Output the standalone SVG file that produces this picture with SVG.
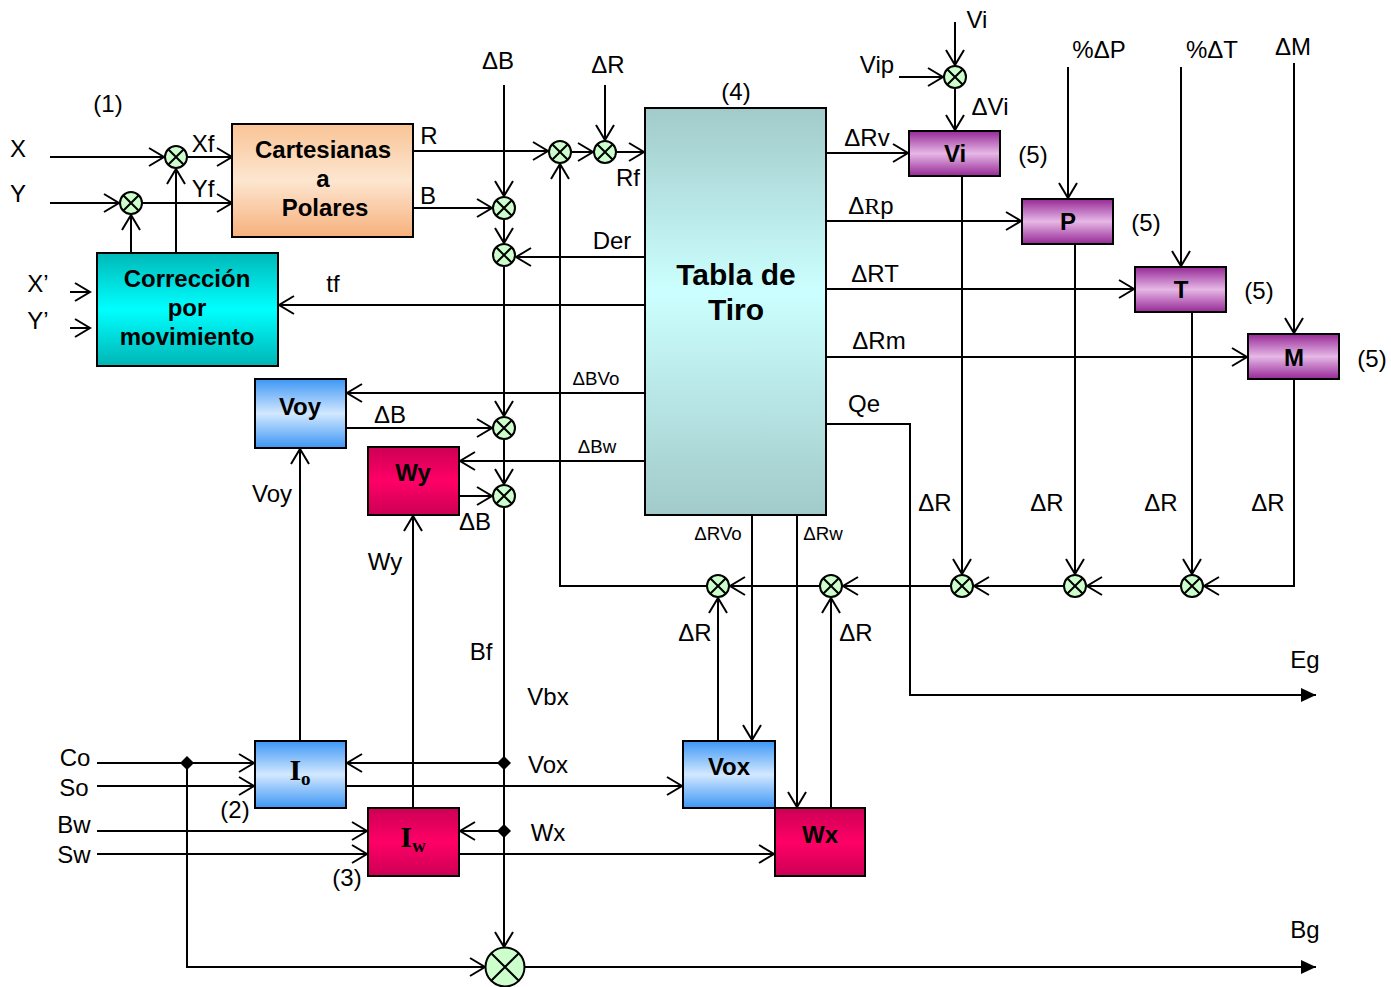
<svg xmlns="http://www.w3.org/2000/svg" xmlns:xlink="http://www.w3.org/1999/xlink" width="1391" height="987" viewBox="0 0 1391 987">
<style>
.l{fill:none;stroke:#000;stroke-width:2}
.a{marker-end:url(#ar)}
.f{marker-end:url(#fa)}
.t{font-family:"Liberation Sans",Arial,sans-serif;font-size:24px;fill:#000;text-anchor:middle}
.s{font-size:18.7px}
.b{font-weight:bold}
.bx{stroke:#000;stroke-width:2}
.sv{font-family:"Liberation Serif","Times New Roman",serif;font-weight:bold;font-size:30px;text-anchor:middle}
</style>
<defs>
<marker id="ar" markerUnits="userSpaceOnUse" markerWidth="18" markerHeight="22" viewBox="-1 -1 18 22" refX="15" refY="9" orient="auto"><path d="M0,0 L15,9 L0,18" fill="none" stroke="#000" stroke-width="2"/></marker>
<marker id="fa" markerUnits="userSpaceOnUse" markerWidth="16" markerHeight="16" viewBox="0 0 16 16" refX="15" refY="8" orient="auto"><path d="M0,1 L15,8 L0,15 z" fill="#000"/></marker>
<linearGradient id="gPeach" x1="0" y1="0" x2="0" y2="1"><stop offset="0" stop-color="#f9c496"/><stop offset="0.5" stop-color="#fde6d0"/><stop offset="1" stop-color="#f6b07c"/></linearGradient>
<linearGradient id="gCyan" x1="0" y1="0" x2="0" y2="1"><stop offset="0" stop-color="#00b8b8"/><stop offset="0.5" stop-color="#00ffff"/><stop offset="1" stop-color="#00b4b4"/></linearGradient>
<linearGradient id="gTabla" x1="0" y1="0" x2="0" y2="1"><stop offset="0" stop-color="#a2caca"/><stop offset="0.45" stop-color="#ccffff"/><stop offset="1" stop-color="#a2caca"/></linearGradient>
<linearGradient id="gBlue" x1="0" y1="0" x2="0" y2="1"><stop offset="0" stop-color="#3d96f5"/><stop offset="0.5" stop-color="#d2e8ff"/><stop offset="1" stop-color="#3d96f5"/></linearGradient>
<linearGradient id="gRed" x1="0" y1="0" x2="0" y2="1"><stop offset="0" stop-color="#cc0055"/><stop offset="0.5" stop-color="#ff0066"/><stop offset="1" stop-color="#cc0055"/></linearGradient>
<linearGradient id="gPurp" x1="0" y1="0" x2="0" y2="1"><stop offset="0" stop-color="#962896"/><stop offset="0.5" stop-color="#e6b8e6"/><stop offset="1" stop-color="#962896"/></linearGradient>
<g id="sum"><circle r="11" fill="#ccffcc" stroke="#000" stroke-width="2"/><path d="M-7.8,-7.8 L7.8,7.8 M-7.8,7.8 L7.8,-7.8" stroke="#000" stroke-width="2"/></g>
<g id="bigsum"><circle r="19.5" fill="#ccffcc" stroke="#000" stroke-width="2"/><path d="M-13.8,-13.8 L13.8,13.8 M-13.8,13.8 L13.8,-13.8" stroke="#000" stroke-width="2"/></g>
<path id="dia" d="M0,-7 L7,0 L0,7 L-7,0 z" fill="#000"/>
</defs>
<rect width="1391" height="987" fill="#fff"/>

<g id="connectors" class="l">
<path class="a" d="M50,157 H164"/>
<path class="a" d="M50,203 H119"/>
<path class="a" d="M187,157 H232"/>
<path class="a" d="M142,203 H232"/>
<path class="a" d="M131,253 V215"/>
<path class="a" d="M176,253 V169"/>
<path class="a" d="M70,292 H90"/>
<path class="a" d="M70,328 H90"/>
<path class="a" d="M413,151 H548"/>
<path class="a" d="M413,208 H492"/>
<path class="a" d="M504,85 V196"/>
<path class="a" d="M504,220 V243"/>
<path class="a" d="M645,257 H516"/>
<path class="a" d="M504,267 V416"/>
<path class="a" d="M504,440 V484"/>
<path class="a" d="M504,508 V947"/>
<path class="a" d="M645,305 H279"/>
<path class="a" d="M605,85 V140"/>
<path class="a" d="M571,152 H593"/>
<path class="a" d="M617,152 H644"/>
<path class="a" d="M707,586 H560 V164"/>
<path class="a" d="M645,393 H347"/>
<path class="a" d="M346,428 H492"/>
<path class="a" d="M645,461 H460"/>
<path class="a" d="M459,496 H492"/>
<path class="a" d="M300,741 V449"/>
<path class="a" d="M413,808 V516"/>
<path class="a" d="M504,763 H347"/>
<path class="a" d="M504,831 H460"/>
<path class="a" d="M97,763 H254"/>
<path class="a" d="M97,786 H254"/>
<path class="a" d="M97,831 H367"/>
<path class="a" d="M97,854 H367"/>
<path class="a" d="M187,763 V967 H485"/>
<path class="a" d="M346,786 H682"/>
<path class="a" d="M459,854 H774"/>
<path class="f" d="M525,967 H1316"/>
<path class="a" d="M752,515 V740"/>
<path class="a" d="M797,515 V807"/>
<path class="a" d="M718,741 V598"/>
<path class="a" d="M831,808 V598"/>
<path class="a" d="M820,586 H730"/>
<path class="a" d="M951,586 H843"/>
<path class="a" d="M1063,586 H974"/>
<path class="a" d="M1181,586 H1087"/>
<path class="a" d="M1294,379 V586 H1204"/>
<path class="a" d="M962,176 V574"/>
<path class="a" d="M1075,244 V574"/>
<path class="a" d="M1192,312 V574"/>
<path class="a" d="M826,153 H908"/>
<path class="a" d="M826,221 H1021"/>
<path class="a" d="M826,289 H1134"/>
<path class="a" d="M826,357 H1247"/>
<path class="f" d="M826,424 H910 V695 H1316"/>
<path class="a" d="M955,22 V65"/>
<path class="a" d="M899,77 H943"/>
<path class="a" d="M955,89 V130"/>
<path class="a" d="M1068,67 V198"/>
<path class="a" d="M1181,67 V266"/>
<path class="a" d="M1294,63 V333"/>
</g>

<g id="junctions">
<use id="jX" href="#sum" x="176" y="157"/>
<use id="jY" href="#sum" x="131" y="203"/>
<use id="jR1" href="#sum" x="560" y="152"/>
<use id="jR2" href="#sum" x="605" y="152"/>
<use id="jB1" href="#sum" x="504" y="208"/>
<use id="jB2" href="#sum" x="504" y="255"/>
<use id="jB3" href="#sum" x="504" y="428"/>
<use id="jB4" href="#sum" x="504" y="496"/>
<use id="jVi" href="#sum" x="955" y="77"/>
<use id="jR3" href="#sum" x="718" y="586"/>
<use id="jR4" href="#sum" x="831" y="586"/>
<use id="jR5" href="#sum" x="962" y="586"/>
<use id="jR6" href="#sum" x="1075" y="586"/>
<use id="jR7" href="#sum" x="1192" y="586"/>
<use id="jBig" href="#bigsum" x="505" y="967"/>
<use id="d1" href="#dia" x="187" y="763"/>
<use id="d2" href="#dia" x="504" y="763"/>
<use id="d3" href="#dia" x="504" y="831"/>
</g>

<g id="cartesianas"><rect class="bx" x="232" y="124" width="181" height="113" fill="url(#gPeach)"/>
<text class="t b" x="323" y="158">Cartesianas</text><text class="t b" x="323" y="187">a</text><text class="t b" x="325" y="216">Polares</text></g>
<g id="correccion"><rect class="bx" x="97" y="253" width="181" height="113" fill="url(#gCyan)"/>
<text class="t b" x="187" y="287">Corrección</text><text class="t b" x="187" y="316">por</text><text class="t b" x="187" y="345">movimiento</text></g>
<g id="tabla"><rect class="bx" x="645" y="108" width="181" height="407" fill="url(#gTabla)"/>
<text class="t b" x="736" y="285" style="font-size:30px">Tabla de</text><text class="t b" x="736" y="320" style="font-size:30px">Tiro</text></g>
<g id="voy"><rect class="bx" x="255" y="379" width="91" height="69" fill="url(#gBlue)"/><text class="t b" x="300" y="415">Voy</text></g>
<g id="wy"><rect class="bx" x="368" y="447" width="91" height="68" fill="url(#gRed)"/><text class="t b" x="413" y="481">Wy</text></g>
<g id="io"><rect class="bx" x="255" y="741" width="91" height="67" fill="url(#gBlue)"/><text class="sv" x="300" y="780">I<tspan font-size="19" dy="5">o</tspan></text></g>
<g id="iw"><rect class="bx" x="368" y="808" width="91" height="68" fill="url(#gRed)"/><text class="sv" x="413" y="847">I<tspan font-size="19" dy="5">w</tspan></text></g>
<g id="vox"><rect class="bx" x="683" y="741" width="92" height="67" fill="url(#gBlue)"/><text class="t b" x="729" y="775">Vox</text></g>
<g id="wx"><rect class="bx" x="775" y="808" width="90" height="68" fill="url(#gRed)"/><text class="t b" x="820" y="843">Wx</text></g>
<g id="vi"><rect class="bx" x="909" y="131" width="91" height="45" fill="url(#gPurp)"/><text class="t b" x="955" y="162">Vi</text></g>
<g id="p"><rect class="bx" x="1022" y="199" width="91" height="45" fill="url(#gPurp)"/><text class="t b" x="1068" y="230">P</text></g>
<g id="t"><rect class="bx" x="1135" y="267" width="91" height="45" fill="url(#gPurp)"/><text class="t b" x="1181" y="298">T</text></g>
<g id="m"><rect class="bx" x="1248" y="334" width="91" height="45" fill="url(#gPurp)"/><text class="t b" x="1294" y="366">M</text></g>

<g id="labels">
<text class="t" x="108" y="112">(1)</text>
<text class="t" x="18" y="157">X</text>
<text class="t" x="18" y="202">Y</text>
<text class="t" x="203" y="152">Xf</text>
<text class="t" x="203" y="197">Yf</text>
<text class="t" x="38" y="292">X’</text>
<text class="t" x="38" y="329">Y’</text>
<text class="t" x="333" y="292">tf</text>
<text class="t" x="429" y="144">R</text>
<text class="t" x="428" y="204">B</text>
<text class="t" x="498" y="69">ΔB</text>
<text class="t" x="608" y="73">ΔR</text>
<text class="t" x="736" y="100">(4)</text>
<text class="t" x="628" y="186">Rf</text>
<text class="t" x="612" y="249">Der</text>
<text class="t s" x="596" y="385">ΔBVo</text>
<text class="t s" x="597" y="453">ΔBw</text>
<text class="t" x="390" y="423">ΔB</text>
<text class="t" x="475" y="530">ΔB</text>
<text class="t" x="272" y="502">Voy</text>
<text class="t" x="385" y="570">Wy</text>
<text class="t" x="481" y="660">Bf</text>
<text class="t" x="548" y="705">Vbx</text>
<text class="t" x="548" y="773">Vox</text>
<text class="t" x="548" y="841">Wx</text>
<text class="t" x="75" y="766">Co</text>
<text class="t" x="74" y="796">So</text>
<text class="t" x="74" y="833">Bw</text>
<text class="t" x="74" y="863">Sw</text>
<text class="t" x="235" y="818">(2)</text>
<text class="t" x="347" y="886">(3)</text>
<text class="t s" x="718" y="540">ΔRVo</text>
<text class="t s" x="823" y="540">ΔRw</text>
<text class="t" x="935" y="511">ΔR</text>
<text class="t" x="1047" y="511">ΔR</text>
<text class="t" x="1161" y="511">ΔR</text>
<text class="t" x="1268" y="511">ΔR</text>
<text class="t" x="695" y="641">ΔR</text>
<text class="t" x="856" y="641">ΔR</text>
<text class="t" x="864" y="412">Qe</text>
<text class="t" x="1305" y="668">Eg</text>
<text class="t" x="1305" y="938">Bg</text>
<text class="t" x="977" y="28">Vi</text>
<text class="t" x="877" y="73">Vip</text>
<text class="t" x="990" y="115">ΔVi</text>
<text class="t" x="1099" y="58">%ΔP</text>
<text class="t" x="1212" y="58">%ΔT</text>
<text class="t" x="1293" y="55">ΔM</text>
<text class="t" x="867" y="146">ΔRv</text>
<text class="t" x="871" y="214">Δ<tspan font-family="Liberation Serif, serif">R</tspan>p</text>
<text class="t" x="875" y="282">ΔRT</text>
<text class="t" x="879" y="349">ΔRm</text>
<text class="t" x="1033" y="163">(5)</text>
<text class="t" x="1146" y="231">(5)</text>
<text class="t" x="1259" y="299">(5)</text>
<text class="t" x="1372" y="367">(5)</text>
</g>
</svg>
